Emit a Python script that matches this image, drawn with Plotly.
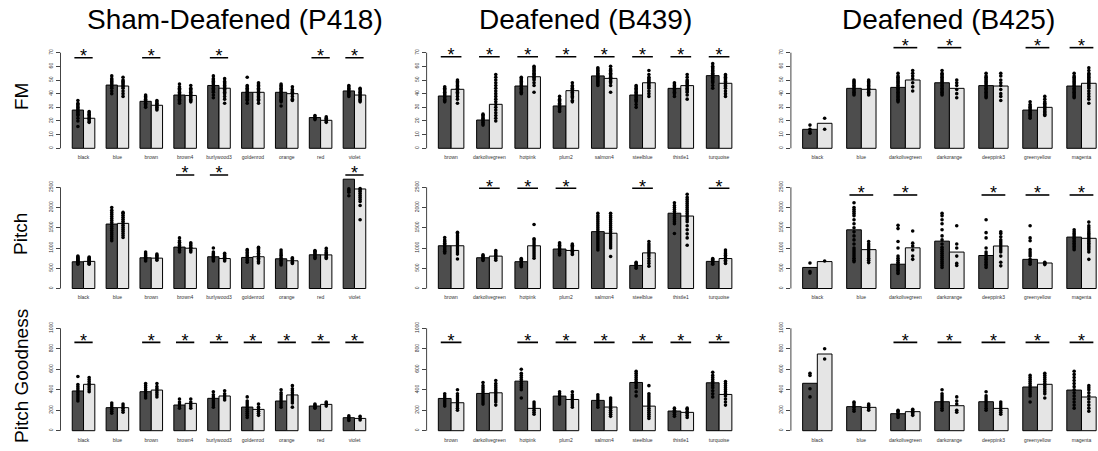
import plotly.graph_objects as go

# ---------------- data ----------------
cats_p418 = ["black", "blue", "brown", "brown4", "burlywood3", "goldenrod", "orange", "red", "violet"]
cats_b439 = ["brown", "darkolivegreen", "hotpink", "plum2", "salmon4", "steelblue", "thistle1", "turquoise"]
cats_b425 = ["black", "blue", "darkolivegreen", "darkorange", "deeppink3", "greenyellow", "magenta"]

# FM
fm_p418_pre = [28, 46.3, 34.4, 39, 46, 41, 41, 22.5, 42]
fm_p418_post = [22, 45.6, 31.5, 38.7, 44, 41, 40, 20.5, 39]
fm_p418_sig = [1, 0, 1, 0, 1, 0, 0, 1, 1]
fm_b439_pre = [38.3, 20.7, 45.6, 31, 53, 39, 43.9, 53.2]
fm_b439_post = [43.2, 32.2, 52.4, 42.2, 51.2, 48, 45.9, 47.6]
fm_b439_sig = [1, 1, 1, 1, 1, 1, 1, 1]
fm_b425_pre = [13.9, 43.9, 44.6, 48, 45.9, 28, 45.6]
fm_b425_post = [18.3, 43.2, 50, 43.9, 45.6, 30, 47.6]
fm_b425_sig = [0, 0, 1, 1, 0, 1, 1]

fm_p418_pts_pre = [
    [16, 20, 22, 24, 25, 26, 27, 28, 29, 30, 31, 32, 33, 35],
    [40, 42, 44, 45, 46, 47, 48, 49, 50, 51, 53],
    [30, 31, 32, 33, 34, 35, 36, 37, 38, 39],
    [33, 34, 35, 36, 37, 38, 39, 40, 41, 42, 43, 44, 45, 47],
    [37, 39, 41, 42, 43, 44, 45, 46, 47, 48, 49, 50, 51, 53],
    [33, 35, 36, 37, 38, 39, 40, 41, 42, 43, 44, 45, 46, 52],
    [31, 34, 35, 36, 37, 38, 39, 40, 41, 42, 43, 44, 45, 46, 47],
    [21, 22, 23, 24],
    [38, 39, 40, 41, 42, 43, 44, 45, 46],
]
fm_p418_pts_post = [
    [19, 20, 21, 22, 23, 24, 25, 26, 27],
    [38, 40, 42, 44, 45, 46, 47, 48, 49, 50, 52],
    [28, 29, 30, 31, 32, 33, 34, 35],
    [34, 35, 36, 37, 38, 39, 40, 41, 42, 43, 44, 46],
    [33, 36, 38, 40, 41, 42, 43, 44, 45, 46, 47, 48, 49, 51],
    [33, 35, 36, 37, 38, 39, 40, 41, 42, 43, 44, 45, 46, 47, 48],
    [35, 36, 38, 40, 41, 42, 43, 45],
    [19, 20, 21, 22, 23],
    [34, 35, 36, 37, 38, 39, 40, 41, 42, 43, 44],
]
fm_b439_pts_pre = [
    [34, 35, 36, 37, 38, 39, 40, 41, 42, 43, 44, 45],
    [17, 18, 19, 20, 21, 22, 23, 24, 25],
    [40, 41, 42, 43, 44, 45, 46, 47, 48, 49, 50, 51, 52],
    [27, 28, 29, 30, 31, 32, 33, 34, 35, 36, 38],
    [46, 47, 48, 49, 50, 51, 52, 53, 54, 55, 56, 57, 58, 59],
    [30, 32, 34, 35, 36, 37, 38, 39, 40, 41, 42, 43, 44, 45, 46],
    [38, 40, 41, 42, 43, 44, 45, 46, 47, 48],
    [44, 46, 48, 49, 50, 51, 52, 53, 54, 55, 56, 57, 58, 59, 60, 62],
]
fm_b439_pts_post = [
    [33, 36, 38, 40, 41, 42, 43, 44, 45, 46, 47, 48, 49, 50],
    [20, 22, 24, 26, 28, 30, 32, 34, 36, 38, 40, 42, 44, 46, 48, 50, 52, 54],
    [41, 46, 48, 50, 51, 52, 53, 54, 55, 56, 57, 58, 59, 60],
    [34, 35, 37, 38, 39, 40, 41, 42, 43, 44, 45, 46, 48],
    [41, 46, 48, 49, 50, 51, 52, 53, 54, 55, 56, 57, 58, 60],
    [38, 40, 42, 44, 45, 46, 47, 48, 49, 50, 51, 52, 54, 57],
    [36, 39, 41, 42, 43, 44, 45, 46, 47, 48, 49, 50, 52, 54],
    [38, 40, 42, 44, 45, 46, 47, 48, 49, 50, 51, 52, 53, 54],
]
fm_b425_pts_pre = [
    [11, 12, 14, 17],
    [39, 40, 41, 42, 43, 44, 45, 46, 47, 48, 49, 50],
    [34, 35, 36, 37, 38, 39, 40, 41, 42, 43, 44, 45, 46, 47, 48, 49, 50, 51, 52, 53, 55],
    [39, 40, 41, 42, 43, 44, 45, 46, 47, 48, 49, 50, 51, 52, 53, 54, 55, 57],
    [37, 38, 39, 40, 41, 42, 43, 44, 45, 46, 47, 48, 49, 50, 51, 52, 53, 55],
    [22, 23, 24, 25, 26, 27, 28, 29, 30, 31, 32, 34],
    [37, 38, 39, 40, 41, 42, 43, 44, 45, 46, 47, 48, 49, 50, 51, 52, 53, 55],
]
fm_b425_pts_post = [
    [14, 22],
    [39, 40, 41, 42, 43, 44, 45, 46, 47, 48, 49, 50],
    [42, 45, 48, 51, 53, 55, 57],
    [37, 40, 43, 46, 48, 50],
    [35, 38, 40, 43, 46, 48, 50, 53, 55],
    [24, 25, 26, 27, 28, 29, 30, 31, 32, 33, 34, 36, 38],
    [33, 36, 38, 40, 42, 44, 45, 46, 47, 48, 49, 50, 51, 52, 53, 54, 55, 57, 59],
]

# Pitch
pitch_p418_pre = [660, 1592, 759, 1023, 784, 767, 734, 833, 2700]
pitch_p418_post = [670, 1609, 750, 995, 740, 784, 685, 830, 2459]
pitch_p418_sig = [0, 0, 0, 1, 1, 0, 0, 0, 1]
pitch_b439_pre = [1056, 760, 662, 975, 1405, 570, 1860, 670]
pitch_b439_post = [1056, 800, 1055, 940, 1365, 880, 1790, 740]
pitch_b439_sig = [0, 1, 1, 1, 0, 1, 0, 1]
pitch_b425_pre = [520, 1450, 600, 1170, 815, 720, 1270]
pitch_b425_post = [665, 960, 1005, 900, 1050, 630, 1240]
pitch_b425_sig = [0, 1, 1, 0, 1, 1, 1]

pitch_p418_pts_pre = [
    [600, 620, 640, 660, 680, 700, 720, 740, 760, 780, 800],
    [1180, 1230, 1280, 1330, 1380, 1430, 1480, 1530, 1580, 1630, 1680, 1730, 1780, 1830, 1880, 1930, 2000],
    [680, 710, 740, 770, 800, 830, 860, 900],
    [900, 940, 980, 1020, 1060, 1100, 1140, 1180, 1250],
    [680, 710, 740, 770, 800, 830, 860, 900, 1000],
    [650, 690, 730, 770, 810, 850, 890, 930, 960],
    [580, 620, 660, 700, 740, 780, 820, 860, 900, 950],
    [740, 770, 800, 830, 860, 890, 920, 940],
    [2290, 2380, 2420, 2460],
]
pitch_p418_pts_post = [
    [600, 620, 640, 660, 680, 700, 720, 740, 760, 780],
    [1260, 1310, 1360, 1410, 1460, 1510, 1560, 1610, 1660, 1710, 1760, 1810, 1860, 1880],
    [700, 730, 760, 790, 820, 850],
    [900, 940, 980, 1020, 1060, 1100, 1130],
    [680, 710, 740, 770, 800, 830, 870],
    [630, 670, 710, 750, 790, 830, 870, 910, 950, 990, 1020],
    [620, 650, 680, 710, 740, 760],
    [740, 770, 800, 830, 860, 890, 930, 990],
    [1700, 2050, 2150, 2200, 2250, 2300, 2350, 2400, 2440, 2470],
]
pitch_b439_pts_pre = [
    [880, 920, 960, 1000, 1040, 1080, 1120, 1160, 1200, 1260],
    [690, 720, 750, 780, 810, 830],
    [540, 570, 600, 630, 660, 690, 720, 740],
    [830, 870, 910, 950, 990, 1030, 1070, 1100, 1130],
    [950, 1000, 1050, 1100, 1150, 1200, 1250, 1300, 1350, 1400, 1450, 1500, 1550, 1600, 1650, 1700, 1750, 1800, 1860],
    [500, 530, 560, 590, 620, 650],
    [1360, 1600, 1650, 1700, 1750, 1800, 1850, 1900, 1950, 2000, 2050, 2120],
    [600, 630, 660, 690, 720, 740],
]
pitch_b439_pts_post = [
    [730, 850, 900, 950, 1000, 1050, 1100, 1150, 1200, 1250, 1300, 1350, 1390],
    [700, 740, 780, 820, 860, 900, 940],
    [750, 800, 850, 900, 950, 1000, 1050, 1100, 1150, 1200, 1230, 1580],
    [840, 880, 920, 960, 1000, 1040, 1070, 1100],
    [790, 1000, 1050, 1100, 1150, 1200, 1250, 1300, 1350, 1400, 1450, 1500, 1550, 1600, 1650, 1700, 1750, 1800, 1860],
    [550, 620, 680, 740, 800, 850, 900, 950, 1000, 1050, 1100, 1160],
    [1070, 1250, 1350, 1450, 1550, 1650, 1700, 1750, 1800, 1850, 1900, 1950, 2000, 2050, 2100, 2150, 2200, 2250, 2330],
    [620, 660, 700, 740, 780, 820, 860, 900, 950],
]
pitch_b425_pts_pre = [
    [380, 420, 630],
    [660, 700, 750, 800, 850, 900, 950, 1000, 1100, 1200, 1300, 1400, 1500, 1600, 1700, 1800, 1850, 1900, 1950, 2000, 2120],
    [370, 410, 450, 490, 530, 570, 610, 650, 700, 750, 800, 1000, 1160, 1480, 1560],
    [520, 570, 620, 670, 720, 770, 820, 870, 920, 970, 1020, 1100, 1200, 1300, 1450, 1600, 1700, 1800, 1860],
    [520, 560, 600, 640, 680, 720, 760, 800, 850, 900, 1000, 1250, 1380, 1700],
    [600, 640, 680, 720, 800, 850, 900, 960, 1180, 1250, 1550],
    [960, 1000, 1040, 1080, 1120, 1160, 1200, 1240, 1280, 1320, 1360, 1400, 1450],
]
pitch_b425_pts_post = [
    [680],
    [640, 700, 750, 800, 850, 900, 950, 1000, 1050, 1100, 1160],
    [720, 800, 950, 1050, 1120, 1420],
    [570, 620, 800, 1000, 1100, 1550],
    [560, 650, 800, 900, 950, 1000, 1050, 1100, 1150, 1200, 1280, 1360, 1400],
    [590, 610, 630, 650],
    [720, 900, 960, 1000, 1040, 1080, 1120, 1160, 1200, 1240, 1280, 1320, 1360, 1400, 1450, 1500, 1550, 1640],
]

# Pitch Goodness
pg_p418_pre = [388, 225, 381, 251, 316, 231, 290, 241, 127]
pg_p418_post = [453, 225, 397, 267, 339, 208, 349, 257, 120]
pg_p418_sig = [1, 0, 1, 1, 1, 1, 1, 1, 1]
pg_b439_pre = [315, 364, 484, 338, 296, 471, 192, 468]
pg_b439_post = [273, 370, 218, 305, 231, 240, 179, 354]
pg_b439_sig = [1, 0, 1, 1, 1, 1, 1, 1]
pg_b425_pre = [463, 235, 166, 283, 283, 427, 397]
pg_b425_post = [749, 228, 186, 244, 218, 453, 329]
pg_b425_sig = [0, 0, 1, 1, 1, 1, 1]

pg_p418_pts_pre = [
    [290, 310, 330, 350, 370, 390, 410, 430, 450, 530],
    [170, 190, 210, 230, 250, 270],
    [320, 340, 360, 380, 400, 420, 440, 460],
    [220, 240, 260, 280, 310],
    [230, 250, 270, 290, 310, 330, 350, 380],
    [130, 150, 170, 190, 210, 230, 250, 270, 290, 330],
    [230, 250, 270, 290, 310, 330, 350, 370, 400],
    [220, 230, 240, 250, 260],
    [100, 115, 130, 145],
]
pg_p418_pts_post = [
    [380, 400, 420, 440, 460, 480, 500, 520],
    [180, 200, 220, 240, 260],
    [330, 350, 370, 390, 410, 430, 460],
    [220, 240, 260, 280, 310],
    [300, 320, 340, 360, 390],
    [150, 170, 190, 210, 230, 260],
    [230, 270, 290, 310, 330, 350, 370, 390, 410, 440],
    [240, 255, 270, 280],
    [105, 120, 140],
]
pg_b439_pts_pre = [
    [240, 260, 280, 300, 320, 340, 360],
    [260, 280, 300, 320, 340, 360, 380, 400, 420, 440, 470],
    [320, 400, 420, 440, 460, 480, 500, 520, 540, 560, 600],
    [260, 280, 300, 320, 340, 360, 380],
    [230, 250, 270, 290, 310, 330, 350],
    [340, 380, 420, 440, 460, 480, 500, 520, 540, 560, 580],
    [140, 160, 180, 200, 220],
    [330, 360, 390, 420, 440, 460, 480, 500, 520, 540, 570],
]
pg_b439_pts_post = [
    [200, 220, 240, 260, 280, 300, 320, 340, 360, 400],
    [250, 280, 300, 320, 340, 360, 380, 400, 420, 440, 460, 490],
    [160, 180, 200, 220, 240, 260, 280],
    [230, 250, 270, 290, 310, 330, 350, 380],
    [140, 160, 180, 200, 220, 240, 260, 280, 300, 320],
    [120, 140, 160, 180, 200, 220, 240, 260, 280, 300, 320, 340, 360, 440],
    [130, 150, 170, 190, 210, 220],
    [250, 280, 310, 340, 360, 380, 400, 420, 440, 460, 480],
]
pg_b425_pts_pre = [
    [330, 410, 540, 560],
    [190, 210, 230, 250, 270, 280],
    [130, 145, 160, 175, 190, 200],
    [200, 220, 240, 260, 280, 300, 320, 340, 360, 400],
    [200, 220, 240, 260, 280, 300, 320, 340, 380],
    [280, 340, 360, 380, 400, 420, 440, 460, 480, 500, 520, 540],
    [220, 250, 280, 310, 340, 370, 400, 430, 460, 490, 520, 550, 580],
]
pg_b425_pts_post = [
    [700, 800],
    [200, 215, 230, 245, 260],
    [150, 165, 180, 195, 210],
    [180, 200, 260, 290, 330],
    [160, 180, 200, 220, 240, 260, 280],
    [320, 360, 380, 400, 420, 440, 460, 480, 500, 520, 540, 560],
    [190, 220, 250, 280, 310, 340, 370, 400, 420, 440],
]

# significance bar heights per panel (data units)
sig_y_fm = [66.3, 67, 73.7]
sig_y_pitch = [2805, 2475, 2310]
sig_y_pg = [863, 863, 863]

# y axis ticks per row (top tick, step)
y_ticks = [(70, 10), (2500, 500), (1000, 200)]

col_titles = ["Sham-Deafened (P418)", "Deafened (B439)", "Deafened (B425)"]
row_titles = ["FM", "Pitch", "Pitch Goodness"]

# ---------------- layout geometry ----------------
W, H = 1098, 451
FONT = "Liberation Sans, Arial, Helvetica, sans-serif"
DARK = "#4d4d4d"
LIGHT = "#e5e5e5"
BARGAP = 1 / 3
BAR_W = (1 - BARGAP) / 2

col_left_px = [60.5, 426.6, 790.9]
col_width_px = 317.0
col_title_cx = [235, 585, 948]
row_zero_px = [148.3, 288.5, 430.7]
row_px_per_unit = [95.6 / 70, 101.2 / 2500, 102.4 / 1000]
row_dom_px = [(40, 152), (165, 292), (318, 434.5)]
row_title_cy = [97, 234, 376]

panels = [
    [(cats_p418, fm_p418_pre, fm_p418_post, fm_p418_sig, fm_p418_pts_pre, fm_p418_pts_post),
     (cats_b439, fm_b439_pre, fm_b439_post, fm_b439_sig, fm_b439_pts_pre, fm_b439_pts_post),
     (cats_b425, fm_b425_pre, fm_b425_post, fm_b425_sig, fm_b425_pts_pre, fm_b425_pts_post)],
    [(cats_p418, pitch_p418_pre, pitch_p418_post, pitch_p418_sig, pitch_p418_pts_pre, pitch_p418_pts_post),
     (cats_b439, pitch_b439_pre, pitch_b439_post, pitch_b439_sig, pitch_b439_pts_pre, pitch_b439_pts_post),
     (cats_b425, pitch_b425_pre, pitch_b425_post, pitch_b425_sig, pitch_b425_pts_pre, pitch_b425_pts_post)],
    [(cats_p418, pg_p418_pre, pg_p418_post, pg_p418_sig, pg_p418_pts_pre, pg_p418_pts_post),
     (cats_b439, pg_b439_pre, pg_b439_post, pg_b439_sig, pg_b439_pts_pre, pg_b439_pts_post),
     (cats_b425, pg_b425_pre, pg_b425_post, pg_b425_sig, pg_b425_pts_pre, pg_b425_pts_post)],
]
sig_heights = [sig_y_fm, sig_y_pitch, sig_y_pg]

fig = go.Figure()
layout_axes = {}
shapes = []
annotations = []

for r in range(3):
    for c in range(3):
        k = r * 3 + c + 1
        xa = "x" if k == 1 else f"x{k}"
        ya = "y" if k == 1 else f"y{k}"
        cats, pre, post, sig, pts_pre, pts_post = panels[r][c]
        n = len(cats)
        idx = list(range(n))

        # bars
        fig.add_trace(go.Bar(x=idx, y=pre, xaxis=xa, yaxis=ya, offsetgroup="pre",
                             marker=dict(color=DARK, line=dict(color="black", width=1)),
                             showlegend=False, hoverinfo="skip"))
        fig.add_trace(go.Bar(x=idx, y=post, xaxis=xa, yaxis=ya, offsetgroup="post",
                             marker=dict(color=LIGHT, line=dict(color="black", width=1)),
                             showlegend=False, hoverinfo="skip"))
        # points
        for pts, sgn in ((pts_pre, -1), (pts_post, 1)):
            px, py = [], []
            for i, vals in enumerate(pts):
                px += [i + sgn * BAR_W / 2] * len(vals)
                py += list(vals)
            fig.add_trace(go.Scatter(x=px, y=py, xaxis=xa, yaxis=ya, mode="markers",
                                     marker=dict(color="black", size=3.6),
                                     showlegend=False, hoverinfo="skip", cliponaxis=False))
        # significance
        sy = sig_heights[r][c]
        lx, ly, tx, ty = [], [], [], []
        for i, s in enumerate(sig):
            if s:
                lx += [i - 0.27, i + 0.27, None]
                ly += [sy, sy, None]
                tx.append(i)
                ty.append(sy)
        if tx:
            fig.add_trace(go.Scatter(x=lx, y=ly, xaxis=xa, yaxis=ya, mode="lines",
                                     line=dict(color="black", width=1.6),
                                     showlegend=False, hoverinfo="skip", cliponaxis=False))
            fig.add_trace(go.Scatter(x=tx, y=ty, xaxis=xa, yaxis=ya, mode="text", text=["*"] * len(tx),
                                     textposition="middle center",
                                     textfont=dict(family=FONT, size=18, color="black"),
                                     showlegend=False, hoverinfo="skip", cliponaxis=False))

        # x geometry (R-style barplot extents)
        lo = -(1 / 3) * (1 + 0.04 * (3 * n - 1))
        hi = (n - 1) - lo
        L = col_left_px[c]
        R = L + col_width_px
        if R > W:
            hi = lo + (W - L) / col_width_px * (hi - lo)
            R = W
        # y geometry
        top_px, bot_px = row_dom_px[r]
        z = row_zero_px[r]
        s_ = row_px_per_unit[r]
        ylo = -(bot_px - z) / s_
        yhi = (z - top_px) / s_
        ttop, tstep = y_ticks[r]

        layout_axes["xaxis" if k == 1 else f"xaxis{k}"] = dict(
            domain=[L / W, R / W], range=[lo, hi], anchor=ya,
            tickvals=idx, ticktext=cats, ticks="", showline=False, showgrid=False,
            zeroline=False, tickfont=dict(family=FONT, size=5, color="#333"),
            ticklabelstandoff=1, fixedrange=True)
        layout_axes["yaxis" if k == 1 else f"yaxis{k}"] = dict(
            domain=[1 - bot_px / H, 1 - top_px / H], range=[ylo, yhi], anchor=xa,
            tickvals=list(range(0, ttop + 1, tstep)), ticks="outside", ticklen=4,
            tickcolor="#444", tickwidth=1, tickangle=-90, showline=False, showgrid=False,
            zeroline=False, tickfont=dict(family=FONT, size=5, color="#333"),
            ticklabelstandoff=1, fixedrange=True)
        shapes.append(dict(type="line", xref=f"{xa} domain", yref=ya, x0=0, x1=0, y0=0, y1=ttop,
                           line=dict(color="#444", width=1)))

for c, t in enumerate(col_titles):
    annotations.append(dict(text=t, x=col_title_cx[c] / W, y=1 - 20 / H, xref="paper", yref="paper",
                            showarrow=False, xanchor="center", yanchor="middle",
                            font=dict(family=FONT, size=28, color="black")))
for r, t in enumerate(row_titles):
    annotations.append(dict(text=t, x=21 / W, y=1 - row_title_cy[r] / H, xref="paper", yref="paper",
                            showarrow=False, xanchor="center", yanchor="middle", textangle=-90,
                            font=dict(family=FONT, size=19, color="black")))

fig.update_layout(
    width=W, height=H, margin=dict(l=0, r=0, t=0, b=0),
    paper_bgcolor="white", plot_bgcolor="white",
    barmode="group", bargap=BARGAP, bargroupgap=0,
    shapes=shapes, annotations=annotations, showlegend=False,
    **layout_axes,
)

fig.write_html("out.html", config={"displayModeBar": False},
               post_script="document.body.style.margin='0';document.body.style.overflow='hidden';")
